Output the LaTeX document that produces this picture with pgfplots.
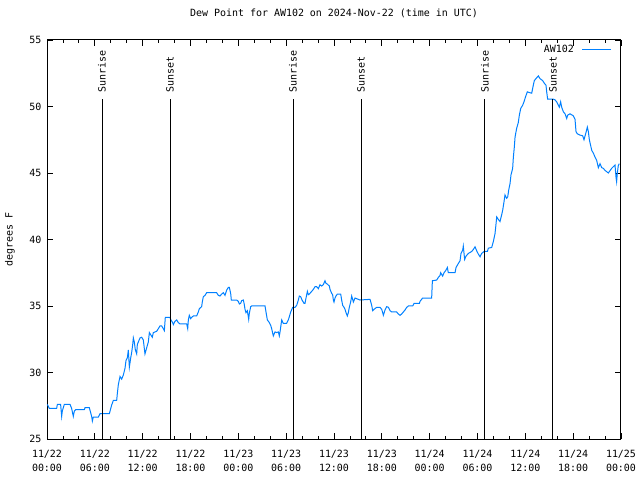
\documentclass[border=0pt]{standalone}
\usepackage{pgfplots}
\pgfplotsset{compat=1.18}
\usepackage{fontspec}
\setmainfont{DejaVu Sans Mono}
\definecolor{dew}{RGB}{0,128,255}
\newcommand{\gf}{\fontsize{10}{14.5}\selectfont}
\begin{document}
\begin{tikzpicture}
\path[use as bounding box] (0,0) rectangle (640bp,480bp);
\begin{axis}[
  at={(47bp,41bp)}, anchor=south west,
  scale only axis, width=574bp, height=399bp,
  xmin=0, xmax=72, ymin=25, ymax=55,
  axis line style={line width=1bp},
  tick style={line width=0.8bp, black},
  tick align=inside, tick pos=both,
  major tick length=6bp, minor tick length=3bp,
  xtick={0,6,...,72}, minor x tick num=2,
  xticklabels={{11/22\\00:00},{11/22\\06:00},{11/22\\12:00},{11/22\\18:00},{11/23\\00:00},{11/23\\06:00},{11/23\\12:00},{11/23\\18:00},{11/24\\00:00},{11/24\\06:00},{11/24\\12:00},{11/24\\18:00},{11/25\\00:00}},
  x tick label style={align=center, font=\gf, yshift=-7.5bp},
  ytick={25,30,...,55},
  y tick label style={font=\gf, xshift=-2bp},
  /pgf/number format/assume math mode=true,
  title={Dew Point for AW102 on 2024-Nov-22 (time in UTC)},
  title style={font=\gf, at={(axis description cs:0.5,1.0526)}, anchor=center},
  ylabel={degrees F},
  ylabel style={font=\gf, at={(axis description cs:-0.0645,0.5)}, anchor=center},
  legend plot pos=right,
  legend style={at={(rel axis cs:1,1)}, anchor=north east, draw=none, fill=none, font=\gf, xshift=-8bp, yshift=-2bp, inner sep=1bp},
  legend image code/.code={\path (0bp,0bp); \draw[#1] (6bp,0bp) -- (35bp,0bp);},
  clip=false,
]
\addplot[color=dew, line width=1bp] coordinates {
(0.05,27.6)(0.29,27.3)(1.21,27.3)(1.30,27.6)(1.71,27.6)(1.84,26.7)(1.92,27.1)(2.17,27.6)(2.89,27.6)(3.09,27.3)
(3.30,26.7)(3.43,27.1)(3.60,27.2)(4.68,27.2)(4.77,27.35)(5.31,27.35)(5.60,26.7)(5.69,26.35)(5.81,26.65)(6.44,26.65)
(6.65,26.9)(7.82,26.9)(8.11,27.55)(8.32,27.9)(8.74,27.9)(8.82,28.4)(8.95,29.1)(9.16,29.7)(9.37,29.5)(9.57,29.8)
(9.78,30.3)(9.91,30.9)(10.08,31.1)(10.20,31.7)(10.33,30.4)(10.50,31.1)(10.62,31.5)(10.75,32.1)(10.83,32.6)(10.95,32.3)
(11.08,31.7)(11.25,31.4)(11.33,32.1)(11.46,32.3)(11.67,32.6)(11.88,32.65)(12.08,32.45)(12.29,31.4)(12.50,31.85)(12.71,32.3)
(12.84,33.0)(13.05,32.8)(13.21,32.65)(13.34,33.0)(13.76,33.1)(13.97,33.3)(14.17,33.5)(14.38,33.5)(14.59,33.3)(14.72,33.15)
(14.84,34.15)(15.43,34.15)(15.55,33.95)(15.76,33.75)(15.85,33.6)(16.06,33.85)(16.27,33.95)(16.47,33.75)(16.68,33.65)(17.52,33.65)
(17.65,33.3)(17.73,33.95)(17.85,34.3)(18.02,34.05)(18.15,34.15)(18.36,34.25)(18.77,34.25)(18.98,34.55)(19.11,34.8)(19.40,34.95)
(19.48,35.3)(19.61,35.7)(19.82,35.8)(20.03,36.0)(21.28,36.0)(21.49,35.8)(21.70,35.75)(21.91,35.9)(22.12,36.0)(22.33,35.8)
(22.54,36.2)(22.75,36.4)(22.87,36.4)(23.04,35.95)(23.12,35.45)(23.79,35.45)(24.00,35.35)(24.13,35.15)(24.29,35.2)(24.42,35.4)
(24.63,35.45)(24.75,35.1)(24.84,34.75)(24.96,34.5)(25.13,34.65)(25.30,34.0)(25.38,34.45)(25.55,34.95)(25.67,35.0)(27.35,35.0)
(27.47,34.55)(27.64,33.95)(27.89,33.75)(28.06,33.55)(28.18,33.3)(28.31,32.95)(28.39,32.75)(28.60,33.05)(28.81,33.0)(29.02,33.05)
(29.14,32.75)(29.23,33.05)(29.44,33.95)(29.64,33.7)(30.06,33.7)(30.27,33.95)(30.40,34.2)(30.57,34.55)(30.82,34.9)(31.11,34.9)
(31.32,35.05)(31.53,35.45)(31.65,35.75)(31.82,35.7)(31.99,35.45)(32.24,35.2)(32.36,35.2)(32.49,35.6)(32.66,36.1)(32.78,35.85)
(32.91,35.9)(33.20,36.1)(33.41,36.25)(33.62,36.45)(33.83,36.45)(34.04,36.3)(34.24,36.6)(34.45,36.5)(34.66,36.6)(34.87,36.9)
(35.00,36.7)(35.16,36.65)(35.42,36.5)(35.50,36.25)(35.71,35.95)(35.83,35.85)(35.92,35.45)(36.00,35.3)(36.13,35.6)(36.25,35.75)
(36.42,35.9)(36.84,35.9)(36.96,35.45)(37.09,35.05)(37.26,34.9)(37.38,34.75)(37.51,34.5)(37.67,34.25)(37.80,34.5)(37.92,34.9)
(38.09,35.3)(38.22,35.75)(38.34,35.5)(38.43,35.3)(38.64,35.6)(39.05,35.5)(39.26,35.45)(40.52,35.5)(40.73,35.05)(40.85,34.65)
(41.02,34.75)(41.35,34.9)(41.77,34.9)(41.98,34.75)(42.11,34.5)(42.19,34.3)(42.40,34.7)(42.61,34.95)(42.82,34.9)(43.03,34.65)
(43.24,34.55)(43.86,34.55)(44.07,34.4)(44.28,34.3)(44.49,34.4)(44.70,34.55)(44.91,34.7)(45.12,34.9)(45.33,35.0)(45.87,35.0)
(46.04,35.2)(46.71,35.2)(46.79,35.35)(47.12,35.6)(48.25,35.6)(48.34,36.9)(48.88,36.95)(49.09,37.15)(49.30,37.3)(49.38,37.5)
(49.63,37.25)(49.80,37.5)(50.05,37.7)(50.22,37.9)(50.34,37.5)(51.18,37.5)(51.31,37.9)(51.60,38.2)(51.81,38.4)(51.93,38.95)
(52.14,39.2)(52.22,39.5)(52.31,38.95)(52.39,38.5)(52.56,38.75)(52.85,38.95)(53.27,39.1)(53.48,39.25)(53.69,39.45)(53.90,39.15)
(54.11,38.9)(54.32,38.7)(54.52,38.95)(54.82,39.1)(55.24,39.1)(55.36,39.35)(55.78,39.4)(55.99,39.85)(56.20,40.45)(56.32,41.15)
(56.41,41.7)(56.62,41.5)(56.82,41.35)(57.03,41.85)(57.16,42.2)(57.33,42.85)(57.45,43.35)(57.66,43.1)(57.79,43.2)(57.91,43.7)
(58.08,44.2)(58.20,44.85)(58.41,45.35)(58.50,46.2)(58.62,46.95)(58.71,47.7)(58.91,48.35)(59.12,48.8)(59.25,49.35)(59.42,49.85)
(59.67,50.1)(59.83,50.35)(60.04,50.75)(60.25,51.1)(60.50,51.05)(60.80,51.0)(61.00,51.6)(61.13,51.95)(61.34,52.1)(61.63,52.3)
(61.84,52.1)(62.17,51.95)(62.38,51.75)(62.59,51.6)(62.68,51.1)(62.80,50.55)(63.51,50.55)(63.72,50.5)(63.93,50.35)(64.14,50.1)
(64.27,49.95)(64.43,50.35)(64.56,49.95)(64.77,49.6)(64.98,49.45)(65.19,49.1)(65.31,49.35)(65.60,49.45)(66.02,49.3)(66.23,49.05)
(66.36,48.1)(66.52,47.95)(66.86,47.85)(67.19,47.8)(67.36,47.5)(67.61,48.05)(67.78,48.45)(67.91,48.1)(68.03,47.5)(68.20,47.05)
(68.33,46.7)(68.53,46.5)(68.74,46.2)(68.95,45.95)(69.16,45.4)(69.37,45.7)(69.58,45.4)(69.79,45.35)(69.99,45.2)(70.20,45.1)
(70.41,45.0)(70.83,45.35)(71.25,45.6)(71.37,44.7)(71.45,44.35)(71.54,45.0)(71.66,45.55)(71.79,45.7)
};
\addlegendentry{AW102}
\foreach \t/\lab in {6.90/Sunrise,15.43/Sunset,30.86/Sunrise,39.39/Sunset,54.94/Sunrise,63.47/Sunset}{
  \edef\temp{\noexpand\draw[black, line width=1bp] (axis cs:\t,25) -- (axis cs:\t,50.56);
    \noexpand\node[rotate=90, anchor=west, font=\noexpand\gf, inner sep=0pt, xshift=0.5bp] at (axis cs:\t,51.0) {\lab};}
  \temp
}
\end{axis}
\end{tikzpicture}
\end{document}
